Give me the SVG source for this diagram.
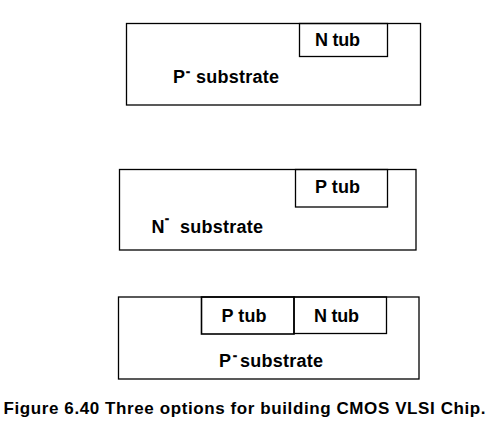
<svg xmlns="http://www.w3.org/2000/svg" width="495" height="432" viewBox="0 0 495 432">
<style>
rect{fill:none;stroke:#000;stroke-width:1.3}
text{font-family:"Liberation Sans",Arial,sans-serif;font-weight:bold;font-size:18px;fill:#000}
.sup{font-size:12px;stroke:#000;stroke-width:0.6}
</style>
<rect x="0" y="0" width="495" height="432" style="fill:#fff;stroke:none"/>
<g id="option1">
<rect x="126.5" y="23.5" width="294" height="81.5"/>
<g id="ntub1"><rect x="299.5" y="23.5" width="88" height="33"/>
<text x="315" y="46" textLength="45">N tub</text></g>
<text x="173" y="83">P<tspan class="sup" x="186" dy="-7">-</tspan><tspan x="196" dy="7" textLength="83">substrate</tspan></text>
</g>
<g id="option2">
<rect x="119.5" y="169.5" width="296.5" height="80.5"/>
<g id="ptub2"><rect x="295.5" y="169.5" width="92" height="37.5"/>
<text x="315" y="193" textLength="45">P tub</text></g>
<text x="151.5" y="233">N<tspan class="sup" x="165" dy="-10">-</tspan><tspan x="180" dy="10" textLength="83">substrate</tspan></text>
</g>
<g id="option3">
<rect x="118.5" y="297" width="300.5" height="82"/>
<g id="ptub3"><rect x="201.5" y="297" width="92.5" height="37" style="stroke-width:1.6"/>
<text x="221.5" y="322" textLength="45">P tub</text></g>
<g id="ntub3"><rect x="294" y="297" width="92.5" height="36.5"/>
<text x="314" y="322" textLength="45">N tub</text></g>
<text x="219" y="367">P<tspan class="sup" x="233" dy="-7">-</tspan><tspan x="240" dy="7" textLength="83">substrate</tspan></text>
</g>
<text id="caption" x="3.5" y="413.5" style="font-size:17px" textLength="482">Figure 6.40 Three options for building CMOS VLSI Chip.</text>
</svg>
